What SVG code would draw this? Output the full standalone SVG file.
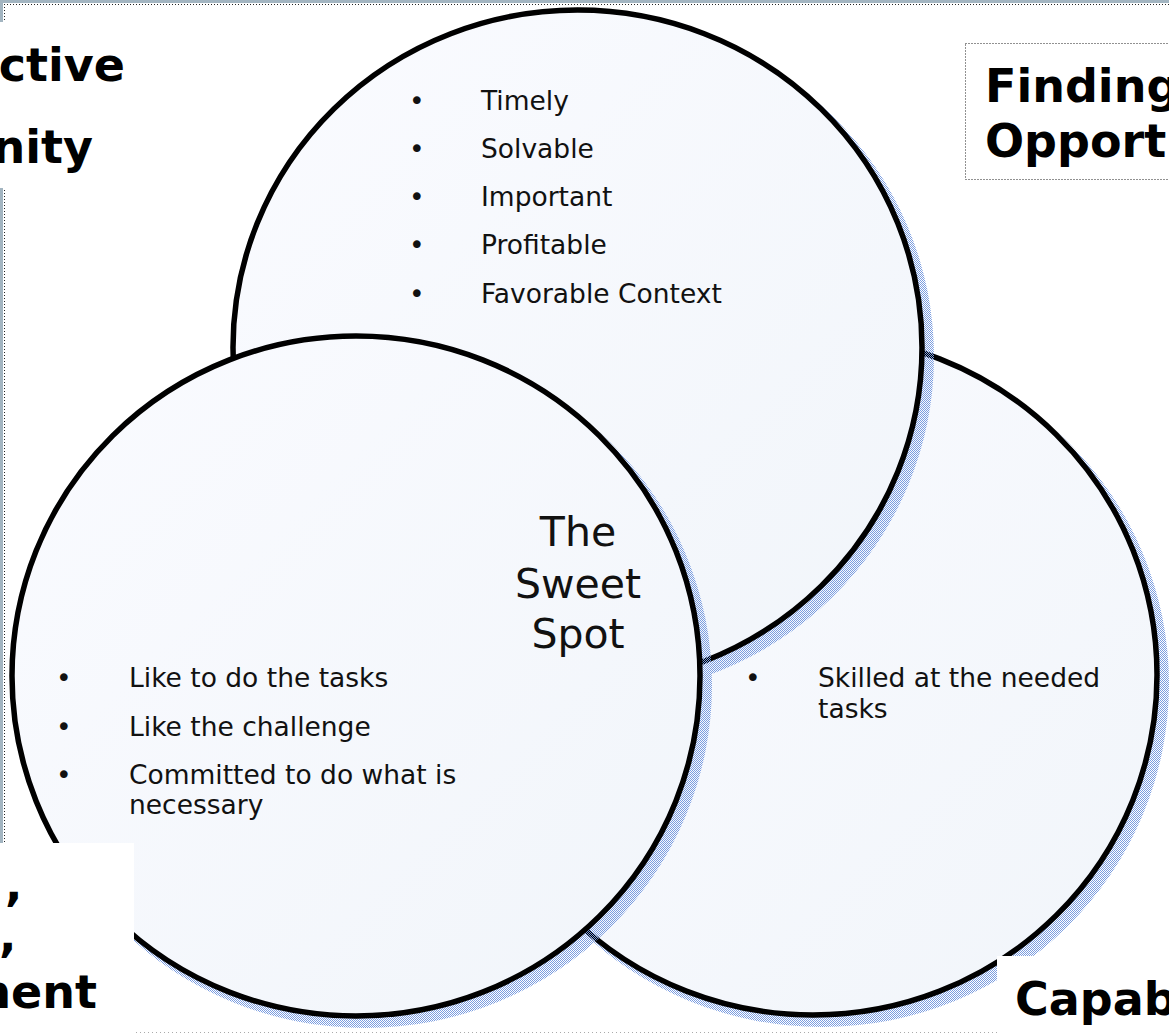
<svg xmlns="http://www.w3.org/2000/svg" width="1169" height="1034" viewBox="0 0 1169 1034">
<defs>
<pattern id="hatch" width="2" height="2" patternUnits="userSpaceOnUse"><rect width="1" height="1" fill="#7b9de0"/><rect x="1" y="1" width="1" height="1" fill="#7b9de0"/></pattern>
<linearGradient id="fillg" x1="0" y1="0" x2="1" y2="1"><stop offset="0" stop-color="#fafbff"/><stop offset="1" stop-color="#f1f5fa"/></linearGradient>
<style>
.shadow{fill:url(#hatch)}
.circ{fill:url(#fillg);stroke:#000;stroke-width:5.5}
.body{font-family:"DejaVu Sans",Verdana,sans-serif;font-size:26.5px;fill:#111}
.sweet{font-family:"DejaVu Sans",Verdana,sans-serif;font-size:41px;fill:#111;text-anchor:middle}
.lbl{font-family:"DejaVu Sans","Liberation Sans",sans-serif;font-size:46px;font-weight:bold;fill:#000}
.dot{fill:none;stroke:#222;stroke-width:1;stroke-dasharray:1 2}
</style>
</defs>
<rect width="1169" height="1034" fill="#fff"/>
<g id="frame">
<rect x="0" y="0" width="1169" height="3" fill="#a3b5c1"/>
<rect x="0" y="0" width="3" height="1034" fill="#a3b5c1"/>
<line class="dot" x1="4" y1="4.5" x2="1169" y2="4.5"/>
<line class="dot" x1="4.5" y1="4" x2="4.5" y2="1034"/>
<line x1="4" y1="1032.5" x2="1169" y2="1032.5" stroke="#aaa" stroke-width="1" stroke-dasharray="1 3"/>
</g>
<g id="connectors"/>
<g id="node-right">
<ellipse class="shadow" cx="822" cy="684" rx="347" ry="343"/>
<ellipse class="circ" cx="813" cy="675" rx="344" ry="340"/>
</g>
<g id="node-top">
<ellipse class="shadow" cx="586.5" cy="356.5" rx="347.5" ry="340.5"/>
<ellipse class="circ" cx="577.5" cy="347.5" rx="344.5" ry="337.5"/>
</g>
<g id="node-left">
<ellipse class="shadow" cx="365" cy="685" rx="347" ry="343"/>
<ellipse class="circ" cx="356" cy="676" rx="344" ry="340"/>
</g>
<g id="text-top">
<text class="body" x="409" y="110">•</text><text class="body" x="481" y="110">Timely</text>
<text class="body" x="409" y="158">•</text><text class="body" x="481" y="158">Solvable</text>
<text class="body" x="409" y="206">•</text><text class="body" x="481" y="206">Important</text>
<text class="body" x="409" y="254">•</text><text class="body" x="481" y="254">Profitable</text>
<text class="body" x="409" y="303">•</text><text class="body" x="481" y="303">Favorable Context</text>
</g>
<g id="text-left">
<text class="body" x="56" y="687">•</text><text class="body" x="129" y="687">Like to do the tasks</text>
<text class="body" x="56" y="736">•</text><text class="body" x="129" y="736">Like the challenge</text>
<text class="body" x="56" y="784">•</text><text class="body" x="129" y="784">Committed to do what is</text>
<text class="body" x="129" y="814">necessary</text>
</g>
<g id="text-right">
<text class="body" x="745" y="687">•</text><text class="body" x="818" y="687">Skilled at the needed</text>
<text class="body" x="818" y="718">tasks</text>
</g>
<g id="sweet-spot">
<text class="sweet" x="578" y="546">The</text>
<text class="sweet" x="578" y="598">Sweet</text>
<text class="sweet" x="578" y="648">Spot</text>
</g>
<g id="label-top-left">
<rect x="0" y="22" width="140" height="166" fill="#fff"/>
<text class="lbl" x="125" y="81" text-anchor="end">ctive</text>
<text class="lbl" x="93" y="163" text-anchor="end">nity</text>
</g>
<g id="label-top-right">
<rect x="965.5" y="43.5" width="210" height="136" fill="#fff" stroke="#222" stroke-width="1" stroke-dasharray="1 2"/>
<text class="lbl" x="985" y="102">Finding</text>
<text class="lbl" x="985" y="157">Opport</text>
</g>
<g id="label-bottom-left">
<rect x="0" y="843" width="134" height="191" fill="#fff"/>
<text class="lbl" x="5" y="900">,</text>
<text class="lbl" x="-1" y="951">,</text>
<text class="lbl" x="97" y="1008" text-anchor="end">ment</text>
</g>
<g id="label-bottom-right">
<rect x="997" y="956" width="172" height="78" fill="#fff"/>
<text class="lbl" x="1015" y="1015">Capab</text>
</g>
</svg>
